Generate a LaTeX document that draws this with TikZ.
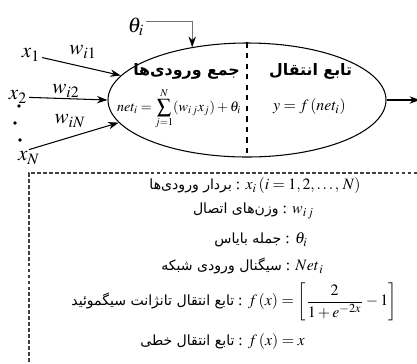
\documentclass[tikz,border=0pt]{standalone}
\usepackage{amsmath}
\usepackage{mathptmx}
\usepackage{fontspec}
\setmainfont{Liberation Serif}
\TeXXeTstate=1
\newfontfamily\farsi[Script=Arabic]{DejaVu Sans}
\usepackage{tikz}
\usetikzlibrary{positioning, arrows.meta, shapes.geometric}

\begin{document}
\begin{tikzpicture}[>={Stealth[length=6pt,width=4.2pt]},
    lbl/.style={inner sep=1pt, font=\large},
    dot/.style={circle, fill=black, inner sep=0pt, minimum size=2.2pt},
    title/.style={font=\farsi\bfseries\small, inner sep=1pt},
    row/.style={inner sep=1pt, font=\small}]
  \clip (0,0) rectangle (8.34,-7.26);

  % neuron body
  \node[ellipse, draw, semithick, minimum width=5.56cm, minimum height=2.28cm,
        inner sep=0pt] (neuron) at (4.94,-2.0) {};
  \draw[dashed, semithick] (neuron.north) -- (neuron.south);
  \node[title, anchor=east] (sumt) at (4.84,-1.43)
        {\beginR جمع ورودی^^^^200cها\endR};
  \node[title, anchor=west] (actt) at (5.34,-1.43)
        {\beginR تابع انتقال\endR};
  \node[font=\footnotesize, inner sep=0pt, anchor=east] (sumeq) at (4.83,-2.17)
        {$net_i=\displaystyle\sum_{j=1}^{N}(w_{i\,j}x_j)+\theta_i$};
  \node[font=\small, inner sep=0pt] (acteq) at (6.19,-2.14) {$y=f\,(net_i)$};

  % inputs and weights
  \node[lbl] (theta) at (2.72,-0.54) {$\theta_i$};
  \node[lbl] (x1) at (0.62,-1.1)  {$x_1$};
  \node[lbl] (x2) at (0.36,-1.94) {$x_2$};
  \node[lbl] (xN) at (0.58,-3.16) {$x_N$};
  \node[lbl] (w1) at (1.66,-1.04) {$w_{i1}$};
  \node[lbl] (w2) at (1.32,-1.82) {$w_{i2}$};
  \node[lbl] (wN) at (1.4,-2.42)  {$w_{iN}$};
  \node[dot] (d1) at (0.38,-2.12) {};
  \node[dot] (d2) at (0.3,-2.46)  {};
  \node[dot] (d3) at (0.4,-2.8)   {};
  \coordinate (out) at (8.4,-2.0);

  \draw[->, semithick] (x1) -- (neuron.169);
  \draw[->, semithick] (x2) -- (neuron.west);
  \draw[->, semithick] (xN.north) -- (neuron.190);
  \draw[-{Stealth[length=6pt,width=4.2pt,black]}, black!55]
       ([yshift=3pt]theta.east) -| (neuron.136);
  \draw[->, semithick] (neuron.east) -- (out);

  % legend
  \draw[dashed, black!75, dash pattern=on 2.2pt off 1.2pt, thick]
       (0.58,-7.6) -- (0.58,-3.46) -- (8.6,-3.46);
  \node[row] (r1) at (5.1,-3.72)
        {{\farsi\footnotesize\beginR بردار ورودی^^^^200cها\endR} : $x_i\,(i=1,2,\ldots,\,N)$};
  \node[row] (r2) at (5.07,-4.22)
        {{\farsi\footnotesize\beginR وزن^^^^200cهای اتصال\endR} : $w_{i\,j}$};
  \node[row] (r3) at (5.22,-4.8)
        {{\farsi\footnotesize\beginR جمله بایاس\endR} : $\theta_i$};
  \node[row] (r4) at (4.85,-5.32)
        {{\farsi\footnotesize\beginR سیگنال ورودی شبکه\endR} : $Net_{\,i}$};
  \node[row] (r5) at (4.68,-6.04)
        {{\farsi\footnotesize\beginR تابع انتقال تانژانت سیگموئید\endR} : $f\,(x)=\left[\dfrac{2}{1+e^{-2x}}-1\right]$};
  \node[row] (r6) at (4.45,-6.84)
        {{\farsi\footnotesize\beginR تابع انتقال خطی\endR} : $f\,(x)=x$};
\end{tikzpicture}
\end{document}
